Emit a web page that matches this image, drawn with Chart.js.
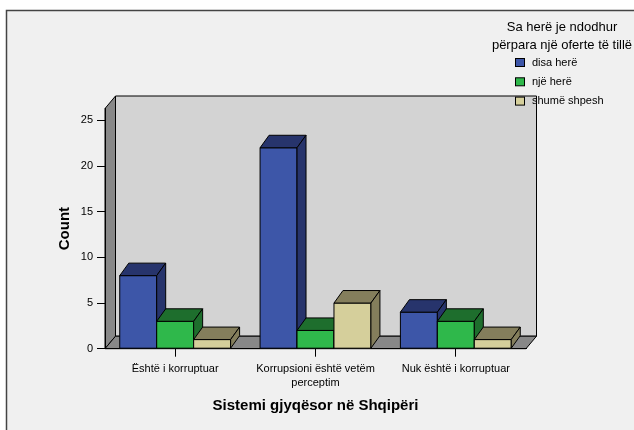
<!DOCTYPE html>
<html lang="sq">
<head>
    <meta charset="UTF-8">
    <title>Sistemi gjyqësor në Shqipëri</title>
    <script src="https://cdn.jsdelivr.net/npm/chart.js"></script>
    <style>
        body {
            margin: 0;
            background-color: #ffffff;
            overflow: hidden;
        }
        #wrap {
            width: 634px;
            height: 430px;
        }
        canvas {
            display: block;
        }
    </style>
</head>
<body>
    <div id="wrap">
        <canvas id="grafik" width="634" height="430"></canvas>
    </div>

    <script>
        // të dhënat
        const kategorite = [
            'Është i korruptuar',
            ['Korrupsioni është vetëm', 'perceptim'],
            'Nuk është i korruptuar'
        ];
        const seriaNames = ['disa herë', 'një herë', 'shumë shpesh'];
        const disaHere = [8, 22, 4];
        const njeHere = [3, 2, 3];
        const shumeShpesh = [1, 5, 1];
        const yTicks = [0, 5, 10, 15, 20, 25];
        const legendTitle = ['Sa herë je ndodhur', 'përpara një oferte të tillë'];

        // ngjyrat: faqja e përparme / faqet anësore
        const ngjyraPara = ['#3d56a8', '#2fb84b', '#d5cf9b'];
        const ngjyraAnash = ['#27346c', '#1e6e2d', '#847e5c'];

        const DX = 9, DY = -12.5;      // thellësia e shtyllave
        const WX = 10.5, WY = -12.5;   // thellësia e mureve
        const FONT = 'Arial, "Liberation Sans", sans-serif';

        function poly(ctx, pts, fill) {
            ctx.beginPath();
            ctx.moveTo(pts[0][0], pts[0][1]);
            for (let i = 1; i < pts.length; i++) ctx.lineTo(pts[i][0], pts[i][1]);
            ctx.closePath();
            ctx.fillStyle = fill;
            ctx.fill();
            ctx.stroke();
        }

        const pamja3d = {
            id: 'pamja3d',
            beforeDraw(chart) {
                const ctx = chart.ctx;
                const a = chart.chartArea;
                ctx.save();
                // korniza
                ctx.fillStyle = '#f0f0f0';
                ctx.fillRect(6, 10, 640, 430);
                ctx.strokeStyle = '#444444';
                ctx.lineWidth = 1.5;
                ctx.beginPath();
                ctx.moveTo(6.5, 440);
                ctx.lineTo(6.5, 10.5);
                ctx.lineTo(640, 10.5);
                ctx.stroke();

                // muret
                ctx.strokeStyle = '#000';
                ctx.lineWidth = 1;
                ctx.lineJoin = 'round';
                const l = a.left, r = a.right, t = a.top, b = a.bottom;
                poly(ctx, [[l + WX, t + WY], [r + WX, t + WY], [r + WX, b + WY], [l + WX, b + WY]], '#d3d3d3');
                poly(ctx, [[l, t], [l + WX, t + WY], [l + WX, b + WY], [l, b]], '#888888');
                poly(ctx, [[l, b], [l + WX, b + WY], [r + WX, b + WY], [r, b]], '#888888');
                ctx.restore();
            },
            afterDatasetsDraw(chart) {
                const ctx = chart.ctx;
                ctx.save();
                ctx.strokeStyle = '#000';
                ctx.lineWidth = 1;
                ctx.lineJoin = 'round';
                const n = chart.data.labels.length;
                for (let i = 0; i < n; i++) {
                    chart.data.datasets.forEach((ds, d) => {
                        const el = chart.getDatasetMeta(d).data[i];
                        const w = el.width;
                        const x1 = el.x - w / 2, x2 = el.x + w / 2;
                        const y = el.y, base = el.base;
                        poly(ctx, [[x1, y], [x2, y], [x2, base], [x1, base]], ngjyraPara[d]);
                        poly(ctx, [[x1, y], [x2, y], [x2 + DX, y + DY], [x1 + DX, y + DY]], ngjyraAnash[d]);
                        poly(ctx, [[x2, y], [x2 + DX, y + DY], [x2 + DX, base + DY], [x2, base]], ngjyraAnash[d]);
                    });
                }
                ctx.restore();
            },
            afterDraw(chart) {
                // legjenda
                const ctx = chart.ctx;
                ctx.save();
                ctx.fillStyle = '#000';
                ctx.textAlign = 'center';
                ctx.textBaseline = 'middle';
                ctx.font = '13px ' + FONT;
                ctx.fillText(legendTitle[0], 562, 27.5);
                ctx.fillText(legendTitle[1], 562, 45.5);
                ctx.font = '11px ' + FONT;
                ctx.textAlign = 'left';
                ctx.strokeStyle = '#000';
                ctx.lineWidth = 1;
                seriaNames.forEach((nm, k) => {
                    const cy = 62.5 + k * 19.3;
                    ctx.fillStyle = ngjyraPara[k];
                    ctx.fillRect(515.5, cy - 4, 9, 8);
                    ctx.strokeRect(515.5, cy - 4, 9, 8);
                    ctx.fillStyle = '#000';
                    ctx.fillText(nm, 532, cy);
                });
                ctx.restore();
            }
        };

        const bosh = 'rgba(0,0,0,0)';
        const ctx = document.getElementById('grafik').getContext('2d');
        const chart = new Chart(ctx, {
            type: 'bar',
            data: {
                labels: kategorite,
                datasets: [
                    { label: seriaNames[0], data: disaHere, backgroundColor: bosh, borderWidth: 0 },
                    { label: seriaNames[1], data: njeHere, backgroundColor: bosh, borderWidth: 0 },
                    { label: seriaNames[2], data: shumeShpesh, backgroundColor: bosh, borderWidth: 0 }
                ]
            },
            options: {
                responsive: false,
                animation: false,
                events: [],
                layout: {
                    padding: { top: 108.5, right: 108, bottom: 0, left: 0 }
                },
                datasets: {
                    bar: { categoryPercentage: 0.79, barPercentage: 1 }
                },
                plugins: {
                    legend: { display: false },
                    tooltip: { enabled: false }
                },
                scales: {
                    x: {
                        afterFit(s) { s.height = 81.3; },
                        grid: {
                            offset: false,
                            drawOnChartArea: false,
                            drawTicks: true,
                            tickLength: 8,
                            color: '#000'
                        },
                        border: { color: '#000', width: 1 },
                        ticks: {
                            color: '#000',
                            padding: 5,
                            maxRotation: 0,
                            autoSkip: false,
                            font: { family: FONT, size: 11, lineHeight: 1.3 }
                        },
                        title: {
                            display: true,
                            text: 'Sistemi gjyqësor në Shqipëri',
                            color: '#000',
                            padding: { top: 4, bottom: 15.5 },
                            font: { family: FONT, size: 15, weight: 'bold' }
                        }
                    },
                    y: {
                        min: 0,
                        max: 26.3,
                        afterFit(s) { s.width = 105; },
                        afterBuildTicks(s) { s.ticks = yTicks.map(v => ({ value: v })); },
                        grid: {
                            drawOnChartArea: false,
                            drawTicks: true,
                            tickLength: 8,
                            color: '#000'
                        },
                        border: { color: '#000', width: 1 },
                        ticks: {
                            color: '#000',
                            padding: 4,
                            font: { family: FONT, size: 11 }
                        },
                        title: {
                            display: true,
                            text: 'Count',
                            color: '#000',
                            padding: { top: 56, bottom: 0 },
                            font: { family: FONT, size: 15, weight: 'bold' }
                        }
                    }
                }
            },
            plugins: [pamja3d]
        });
    </script>
</body>
</html>
